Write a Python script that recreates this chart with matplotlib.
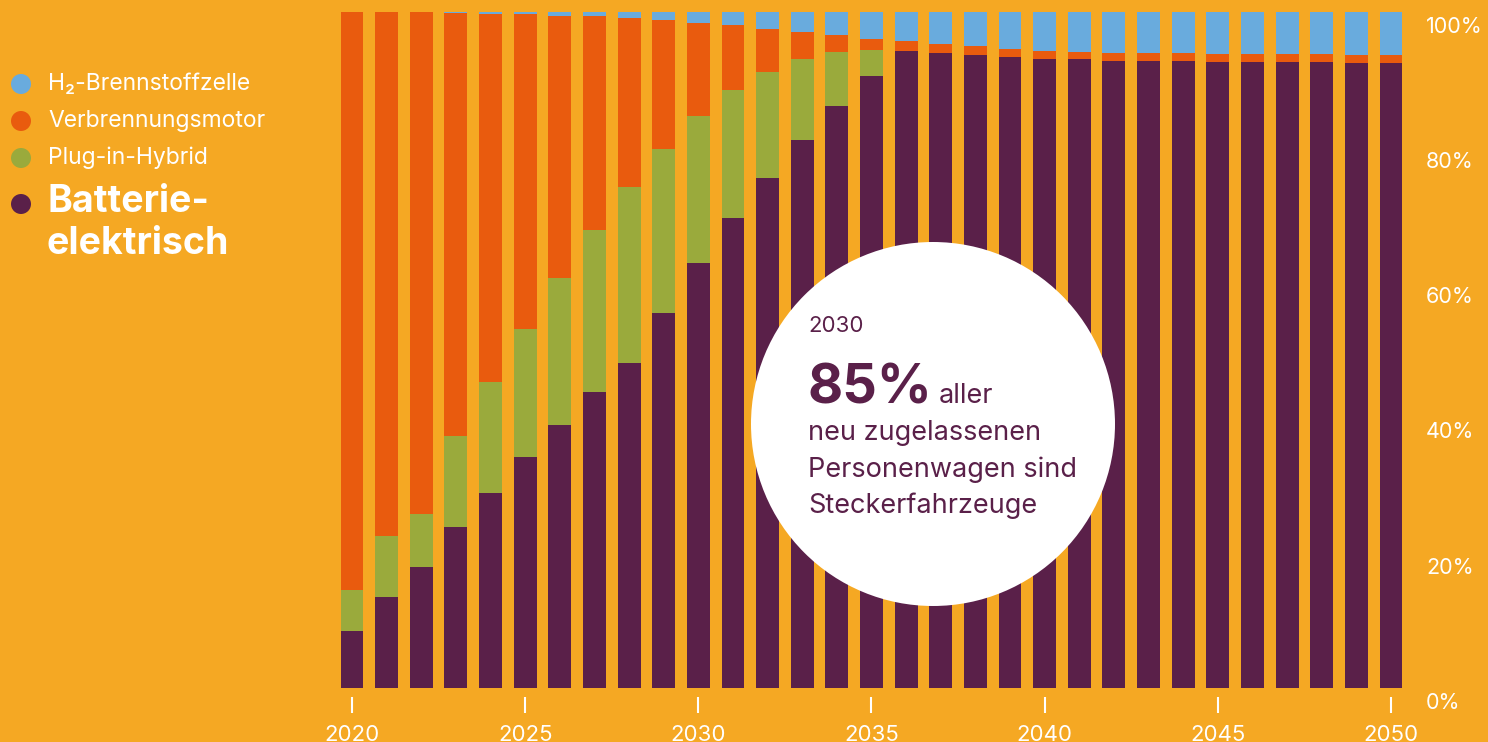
import matplotlib
matplotlib.use("Agg")
import matplotlib.pyplot as plt
from matplotlib.patches import Ellipse
import numpy as np

plt.rcParams['font.family'] = ['Inter', 'DejaVu Sans']

# shares of new registrations in %
years = list(range(2020, 2051))
bev = [8.4, 13.4, 17.9, 23.8, 28.9, 34.1, 38.9, 43.8, 48.1, 55.4, 62.8, 69.5, 75.4, 81.1, 86.1, 90.5,
       94.3, 93.9, 93.7, 93.3, 93.1, 93.0, 92.8, 92.75, 92.75, 92.65, 92.65, 92.65, 92.65, 92.5, 92.5]
phev = [6.1, 9.1, 7.9, 13.5, 16.4, 19.0, 21.7, 24.0, 26.0, 24.4, 21.8, 19.0, 15.7, 11.9, 8.0, 3.9,
        0, 0, 0, 0, 0, 0, 0, 0, 0, 0, 0, 0, 0, 0, 0]
ice = [85.5, 77.5, 74.2, 62.55, 54.45, 46.55, 38.85, 31.55, 25.0, 19.0, 13.8, 9.6, 6.4, 4.0, 2.5, 1.6,
       1.4, 1.3, 1.2, 1.2, 1.1, 1.1, 1.1, 1.15, 1.15, 1.15, 1.15, 1.15, 1.15, 1.1, 1.1]
h2 = [0, 0, 0, 0.15, 0.25, 0.35, 0.55, 0.65, 0.9, 1.2, 1.6, 1.9, 2.5, 3.0, 3.4, 4.0,
      4.3, 4.8, 5.1, 5.5, 5.8, 5.9, 6.1, 6.1, 6.1, 6.2, 6.2, 6.2, 6.2, 6.4, 6.4]

year_ticks = [2020, 2025, 2030, 2035, 2040, 2045, 2050]
pct_ticks = [0, 20, 40, 60, 80, 100]

bg = '#F5A823'
c_bev = '#5A2049'
c_phev = '#9AAA3C'
c_ice = '#E95B0E'
c_h2 = '#69ABDD'
white = '#FFFFFF'

W, H = 1488, 742
fig = plt.figure(figsize=(W / 100, H / 100), dpi=100, facecolor=bg)


def px(x, y):
    return x / W, 1 - y / H


# axes placement in pixels: 2019.5 -> 334.7, 2050.5 -> 1408.3 ; 0% -> 688, 100% -> 12
ax = fig.add_axes([334.7 / W, (H - 688) / H, (1408.3 - 334.7) / W, 676 / H])
ax.set_facecolor(bg)
ax.set_xlim(2019.5, 2050.5)
ax.set_ylim(0, 100)
for s in ax.spines.values():
    s.set_visible(False)
ax.set_xticks([])
ax.set_yticks([])

bw = 0.66
b1 = np.array(bev)
b2 = b1 + np.array(phev)
b3 = b2 + np.array(ice)
ax.bar(years, bev, width=bw, color=c_bev, linewidth=0)
ax.bar(years, phev, width=bw, bottom=b1, color=c_phev, linewidth=0)
ax.bar(years, ice, width=bw, bottom=b2, color=c_ice, linewidth=0)
ax.bar(years, h2, width=bw, bottom=b3, color=c_h2, linewidth=0)

# x ticks and year labels
xt = ax.get_xaxis_transform()
ax.vlines(year_ticks, -0.0133, -0.037, colors=white, linewidth=1.5, transform=xt, clip_on=False)
for y in year_ticks:
    ax.text(y, -0.054, str(y), transform=xt, ha='center', va='top', color=white,
            fontsize=16, clip_on=False)

# percent labels at right
yt = ax.get_yaxis_transform()
for p in pct_ticks:
    ax.text(1.0165, p - 0.7, f"{p}%", transform=yt, ha='left', va='top', color=white,
            fontsize=15.5, clip_on=False)

# legend at left
legend = [("H₂-Brennstoffzelle", c_h2, 84), ("Verbrennungsmotor", c_ice, 121),
          ("Plug-in-Hybrid", c_phev, 158)]
for label, col, yy in legend:
    fig.patches.append(Ellipse(px(21, yy), 20 / W, 20 / H, transform=fig.transFigure,
                               facecolor=col, edgecolor='none'))
    fig.text(*px(48, yy), label, color=white, fontsize=16.5, va='center', ha='left')
fig.patches.append(Ellipse(px(21, 204), 20 / W, 20 / H, transform=fig.transFigure,
                           facecolor=c_bev, edgecolor='none'))
fig.text(*px(47, 223), "Batterie-\nelektrisch", color=white, fontsize=27, fontweight='bold',
         va='center', ha='left', linespacing=1.2)

# highlight circle
fig.patches.append(Ellipse(px(933, 424), 364 / W, 364 / H, transform=fig.transFigure,
                           facecolor=white, edgecolor='none', zorder=5))
fig.text(*px(808, 332), "2030", color=c_bev, fontsize=16, ha='left', va='baseline', zorder=6)
fig.text(*px(808, 403), "85%", color=c_bev, fontsize=39, fontweight='bold', ha='left',
         va='baseline', zorder=6)
fig.text(*px(939, 403), "aller", color=c_bev, fontsize=19.5, ha='left', va='baseline', zorder=6)
for txt, yy in [("neu zugelassenen", 440), ("Personenwagen sind", 477), ("Steckerfahrzeuge", 513)]:
    fig.text(*px(808, yy), txt, color=c_bev, fontsize=19.5, ha='left', va='baseline', zorder=6)

fig.savefig("out.png", dpi=100, facecolor=bg)
